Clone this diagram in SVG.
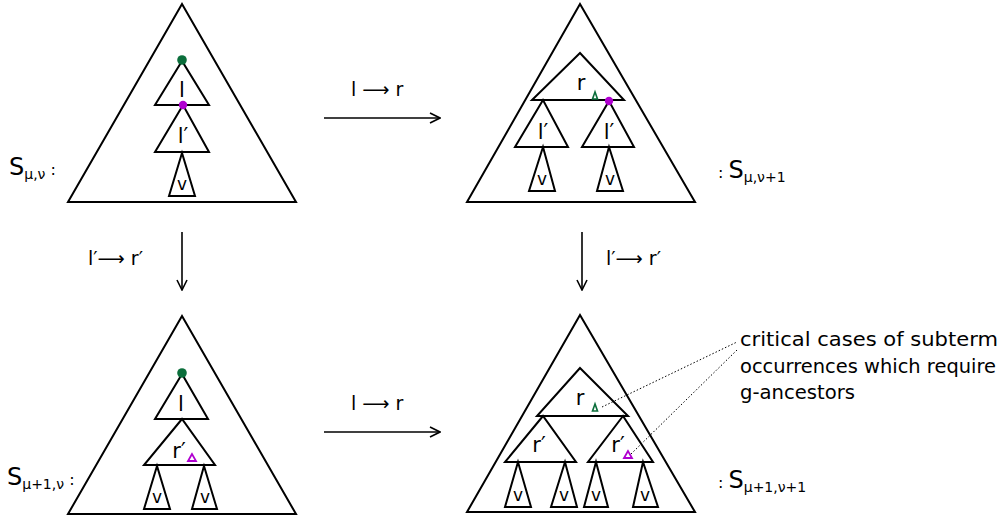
<svg xmlns="http://www.w3.org/2000/svg" width="1003" height="520" viewBox="0 0 1003 520">
<defs>
<marker id="ah" viewBox="0 0 12 12" refX="11" refY="6" markerWidth="12" markerHeight="12" markerUnits="userSpaceOnUse" orient="auto">
<path d="M1,1 L11,6 L1,11" fill="none" stroke="#000" stroke-width="1.6"/>
</marker>
</defs>
<style>
.t{fill:#fff;stroke:#000;stroke-width:2;stroke-linejoin:miter}
.lb{font-family:"DejaVu Sans","Liberation Sans",sans-serif;font-size:21px;fill:#000;text-anchor:middle}
.sm{font-family:"DejaVu Sans","Liberation Sans",sans-serif;font-size:17px;fill:#000;text-anchor:middle}
.ar{font-family:"DejaVu Sans","Liberation Sans",sans-serif;font-size:19px;fill:#000}
.s{font-family:"DejaVu Sans","Liberation Sans",sans-serif;font-size:24px;fill:#000}
.sub{font-size:14px}
.note{font-family:"DejaVu Sans","Liberation Sans",sans-serif;font-size:19px;fill:#000}
.c{stroke:#000;stroke-width:1.6;fill:none}
.dot{stroke:#000;stroke-width:1;stroke-dasharray:1.5 2;fill:none}
.g{fill:#0b6e3b}
.p{fill:#b000d0}
</style>

<!-- top-left -->
<g id="tl">
<polygon class="t" points="182,4 68,202 296,202"/>
<polygon class="t" points="182,61 155,105 209,105"/>
<polygon class="t" points="183,105 155,152 209,152"/>
<polygon class="t" points="182,153 169,196 195,196"/>
<text class="lb" x="182" y="97">l</text>
<text class="lb" x="183" y="143">l′</text>
<text class="sm" x="182" y="190">v</text>
<circle class="g" cx="182" cy="60" r="4.8"/>
<circle class="p" cx="183" cy="105" r="4.2"/>
<text class="s" x="9" y="175">S<tspan class="sub" dy="4">μ,ν</tspan><tspan dy="-4" font-size="16"> :</tspan></text>
</g>

<!-- top-right -->
<g id="tr">
<polygon class="t" points="580,4 467,202 695,202"/>
<polygon class="t" points="580,53 532,100 624,100"/>
<polygon class="t" points="543,100 515,147 568,147"/>
<polygon class="t" points="609,101 582,147 634,147"/>
<polygon class="t" points="543,147 529,191 555,191"/>
<polygon class="t" points="609,147 597,191 623,191"/>
<text class="lb" x="581" y="90">r</text>
<text class="lb" x="543" y="139">l′</text>
<text class="lb" x="609" y="139">l′</text>
<text class="sm" x="542" y="185">v</text>
<text class="sm" x="610" y="185">v</text>
<polygon points="595,92 592.5,99 597.5,99" fill="none" stroke="#0b6e3b" stroke-width="1.6"/>
<circle class="p" cx="609" cy="101" r="4.2"/>
<text class="s" x="718" y="178"><tspan font-size="16">: </tspan>S<tspan class="sub" dy="4">μ,ν+1</tspan></text>
</g>

<!-- bottom-left -->
<g id="bl">
<polygon class="t" points="182,316 68,514 296,514"/>
<polygon class="t" points="182,374 155,419 208,419"/>
<polygon class="t" points="182,419 144,465 215,465"/>
<polygon class="t" points="157,466 144,509 170,509"/>
<polygon class="t" points="204,466 192,509 217,509"/>
<text class="lb" x="181" y="411">l</text>
<text class="lb" x="179" y="458">r′</text>
<text class="sm" x="157" y="503">v</text>
<text class="sm" x="205" y="503">v</text>
<circle class="g" cx="182" cy="373" r="4.8"/>
<polygon points="192,454 188,461 196,461" fill="none" stroke="#b000d0" stroke-width="1.8"/>
<text class="s" x="7" y="485">S<tspan class="sub" dy="4">μ+1,ν</tspan><tspan dy="-4" font-size="16"> :</tspan></text>
</g>

<!-- bottom-right -->
<g id="br">
<polygon class="t" points="580,315 467,512 695,512"/>
<polygon class="t" points="580,368 537,416 628,416"/>
<polygon class="t" points="543,416 505,462 576,462"/>
<polygon class="t" points="623,416 588,462 653,462"/>
<polygon class="t" points="518,462 505,507 531,507"/>
<polygon class="t" points="565,462 551,507 577,507"/>
<polygon class="t" points="596,462 584,507 608,507"/>
<polygon class="t" points="643,462 633,507 658,507"/>
<text class="lb" x="580" y="405">r</text>
<text class="lb" x="539" y="452">r′</text>
<text class="lb" x="618" y="452">r′</text>
<text class="sm" x="518" y="501">v</text>
<text class="sm" x="564" y="501">v</text>
<text class="sm" x="596" y="501">v</text>
<text class="sm" x="645" y="501">v</text>
<polygon points="595,404 592.5,411 597.5,411" fill="none" stroke="#0b6e3b" stroke-width="1.6"/>
<polygon points="628,451 624,458 632,458" fill="none" stroke="#b000d0" stroke-width="1.8"/>
<text class="s" x="718" y="488"><tspan font-size="16">: </tspan>S<tspan class="sub" dy="4">μ+1,ν+1</tspan></text>
</g>

<!-- note -->
<g id="note">
<text class="note" x="740" y="346" textLength="258" lengthAdjust="spacingAndGlyphs">critical cases of subterm</text>
<text class="note" x="740" y="373" textLength="256" lengthAdjust="spacingAndGlyphs">occurrences which require</text>
<text class="note" x="740" y="399" textLength="115" lengthAdjust="spacingAndGlyphs">g-ancestors</text>
</g>

<!-- connectors -->
<g id="connectors">
<line class="c" x1="324" y1="118" x2="440" y2="118" marker-end="url(#ah)"/>
<line class="c" x1="324" y1="432" x2="440" y2="432" marker-end="url(#ah)"/>
<line class="c" x1="182" y1="232" x2="182" y2="290" marker-end="url(#ah)"/>
<line class="c" x1="582" y1="232" x2="582" y2="290" marker-end="url(#ah)"/>
<line class="dot" x1="602" y1="407" x2="737" y2="342"/>
<line class="dot" x1="631" y1="454" x2="737" y2="350"/>
<text class="ar" x="351" y="96">l ⟶ r</text>
<text class="ar" x="351" y="410">l ⟶ r</text>
<text class="ar" x="88" y="265">l′⟶ r′</text>
<text class="ar" x="606" y="265">l′⟶ r′</text>
</g>
</svg>
